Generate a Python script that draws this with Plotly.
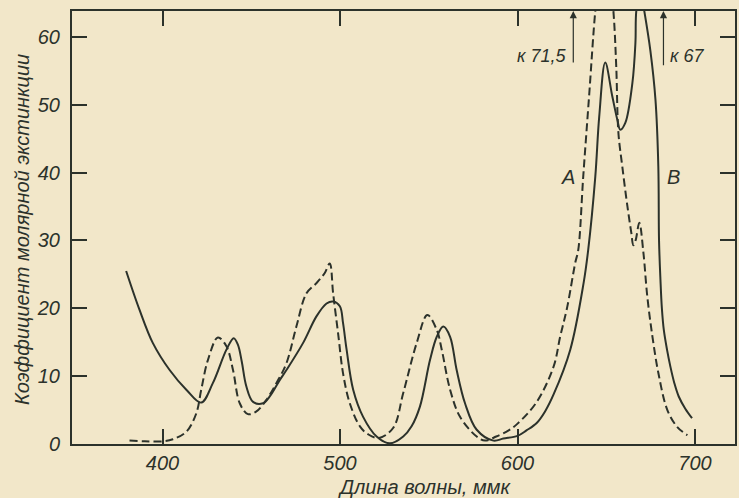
import plotly.graph_objects as go

# Curve B (solid)
wl_solid = [379.5, 387, 394.5, 404, 413.4, 421.8, 428.4, 436, 440.1, 442.5, 444.6, 447.2, 451, 456.6, 460.4, 466, 469.8,
            479.2, 486.7, 492.4, 496.1, 499.9, 501.7, 503.7, 507.4, 513, 520.6, 528.1,
            535.6, 540.3, 545, 550.7, 554.5, 558.2, 562, 565.7, 570.4, 577, 586.4, 592, 600, 605, 610.8, 615.5,
            620.3, 629.7, 637.2, 639.8, 643.8, 646, 649.4, 653.4, 656.2, 657.9, 660.7, 664.7, 666.4, 666.9,
            669.2, 671.4, 674.8, 677.7, 679.3, 679.7, 680.5, 681.3, 682.4, 684.2, 686.1, 688.3, 690.8, 694.5, 698.3]
ab_solid = [25.5, 19.8, 14.9, 10.9, 8.0, 6.1, 9.0, 13.9, 15.6, 14.6, 12.2, 8.5, 6.2, 6.0, 7.0, 9.4, 10.9,
            14.9, 18.8, 20.7, 21.0, 20.3, 17.8, 13.9, 8.0, 4.0, 1.1, 0.1,
            1.1, 2.6, 5.5, 12.4, 15.8, 17.3, 15.8, 10.9, 6.0, 2.1, 0.5, 0.8, 1.2, 2.0, 3.1, 4.8,
            7.3, 13.9, 23.7, 28.6, 39.4, 48.2, 56.2, 51.2, 47.8, 46.3, 47.3, 53.2, 59.1, 63.8,
            67.0, 63.8, 58.0, 50.7, 40.9, 30.0, 24.2, 20.0, 16.8, 13.9, 11.4, 9.0, 7.0, 5.2, 3.8]

# Curve A (dashed)
wl_dash = [381.4, 390, 400.2, 405.8, 413.4, 419, 421.8, 425.6, 431.2, 436, 439.7, 443.5, 448.1, 452.9, 458.5,
           464.2, 469.8, 475.4, 481.1, 486.7, 491.4, 494.2, 496.1, 498.9, 501.7, 505.5, 511.2, 516, 522,
           530, 535.6, 543.2, 549.2, 554.5, 557.3, 562, 567.6, 577, 581.7, 588, 595, 600, 610.8, 620.3,
           624, 628, 632.5, 634.2, 637, 640.4, 643.8, 646.5, 649, 651.5, 654, 655.6, 656.8, 659, 661.9,
           664.1, 665.2, 666.5, 668.6, 670.9, 673.1, 676, 679.3, 684.4, 690, 695.7]
ab_dash = [0.5, 0.4, 0.4, 0.7, 1.8, 4.5, 8.0, 12.4, 15.7, 14.4, 10.9, 6.0, 4.4, 4.8, 6.5,
           9.0, 11.9, 17.3, 22.2, 23.7, 25.2, 26.6, 22.2, 16.3, 10.4, 6.0, 2.6, 1.4, 0.9,
           2.4, 7.5, 14.9, 19.0, 16.8, 13.9, 8.0, 4.0, 1.1, 0.5, 1.1, 2.0, 3.0, 6.2, 11.4,
           15.8, 20.2, 26.7, 28.6, 39.4, 51.6, 63.8, 70.0, 71.5, 70.0, 63.8, 55.6, 45.9, 40.9, 35.0,
           31.1, 29.3, 30.0, 32.6, 28.2, 21.7, 15.8, 10.5, 5.0, 2.5, 1.3]

x_ticks = [400, 500, 600, 700]
y_ticks = [0, 10, 20, 30, 40, 50, 60]

ink = "#2c322b"
paper = "#f2e7c9"
font_fam = "Liberation Sans Narrow, Liberation Sans, Arial, sans-serif"

fig = go.Figure()
fig.add_trace(go.Scatter(x=wl_solid, y=ab_solid, mode="lines",
                         line=dict(color=ink, width=2, shape="spline", smoothing=1.0),
                         showlegend=False, hoverinfo="skip"))
fig.add_trace(go.Scatter(x=wl_dash, y=ab_dash, mode="lines",
                         line=dict(color=ink, width=2, dash="8px,4px", shape="spline", smoothing=1.0),
                         showlegend=False, hoverinfo="skip"))

tickfont = dict(family=font_fam, size=20, color=ink, style="italic")
fig.update_xaxes(range=[349, 722.5], tickvals=x_ticks, ticktext=[str(v) for v in x_ticks],
                 ticks="inside", ticklen=15, tickwidth=1.5, tickcolor=ink,
                 showline=True, linecolor=ink, linewidth=2, mirror="ticks",
                 showgrid=False, zeroline=False, tickfont=tickfont, automargin=False)
fig.update_yaxes(range=[0, 63.8], tickvals=y_ticks, ticktext=[str(v) for v in y_ticks],
                 ticks="inside", ticklen=15, tickwidth=1.5, tickcolor=ink,
                 showline=True, linecolor=ink, linewidth=2, mirror="ticks",
                 showgrid=False, zeroline=False, tickfont=tickfont, ticklabelstandoff=6,
                 automargin=False)

ann_font = dict(family=font_fam, size=18, color=ink, style="italic")
fig.add_annotation(x=631.4, y=63.8, ax=631.4, ay=56.0, xref="x", yref="y", axref="x", ayref="y",
                   showarrow=True, arrowhead=2, arrowsize=1.2, arrowwidth=1.2, arrowcolor=ink, text="")
fig.add_annotation(x=682.2, y=63.8, ax=682.2, ay=55.6, xref="x", yref="y", axref="x", ayref="y",
                   showarrow=True, arrowhead=2, arrowsize=1.2, arrowwidth=1.2, arrowcolor=ink, text="")
fig.add_annotation(x=629.0, y=57.2, xref="x", yref="y", text="к 71,5", showarrow=False,
                   xanchor="right", yanchor="middle", font=ann_font)
fig.add_annotation(x=684.5, y=57.2, xref="x", yref="y", text="к 67", showarrow=False,
                   xanchor="left", yanchor="middle", font=ann_font)
fig.add_annotation(x=628.6, y=39.4, xref="x", yref="y", text="A", showarrow=False,
                   xanchor="center", yanchor="middle", font=dict(family=font_fam, size=20, color=ink, style="italic"))
fig.add_annotation(x=687.8, y=39.4, xref="x", yref="y", text="B", showarrow=False,
                   xanchor="center", yanchor="middle", font=dict(family=font_fam, size=20, color=ink, style="italic"))

title_font = dict(family=font_fam, size=20, color=ink, style="italic")
fig.add_annotation(x=424, y=487, xref="paper", yref="paper", text="Длина волны, ммк", showarrow=False,
                   font=title_font, xanchor="center", yanchor="middle")
fig.add_annotation(x=22, y=230, xref="paper", yref="paper", text="Коэффициент молярной экстинкции",
                   showarrow=False, textangle=-90, font=title_font, xanchor="center", yanchor="middle")

fig.update_layout(width=739, height=498, margin=dict(l=72, r=4, t=11, b=54, autoexpand=False),
                  paper_bgcolor=paper, plot_bgcolor=paper, hovermode=False)

# convert pixel-positioned title annotations into paper coords
pw, ph = 739 - 72 - 4, 498 - 11 - 54
for a in fig.layout.annotations:
    if a.xref == "paper":
        a.x = (a.x - 72) / pw
        a.y = (498 - 54 - a.y) / ph

fig.write_html("out.html", config={"displayModeBar": False},
               post_script="document.body.style.margin='0';document.body.style.overflow='hidden';"
                           "document.body.style.background='" + paper + "';")
